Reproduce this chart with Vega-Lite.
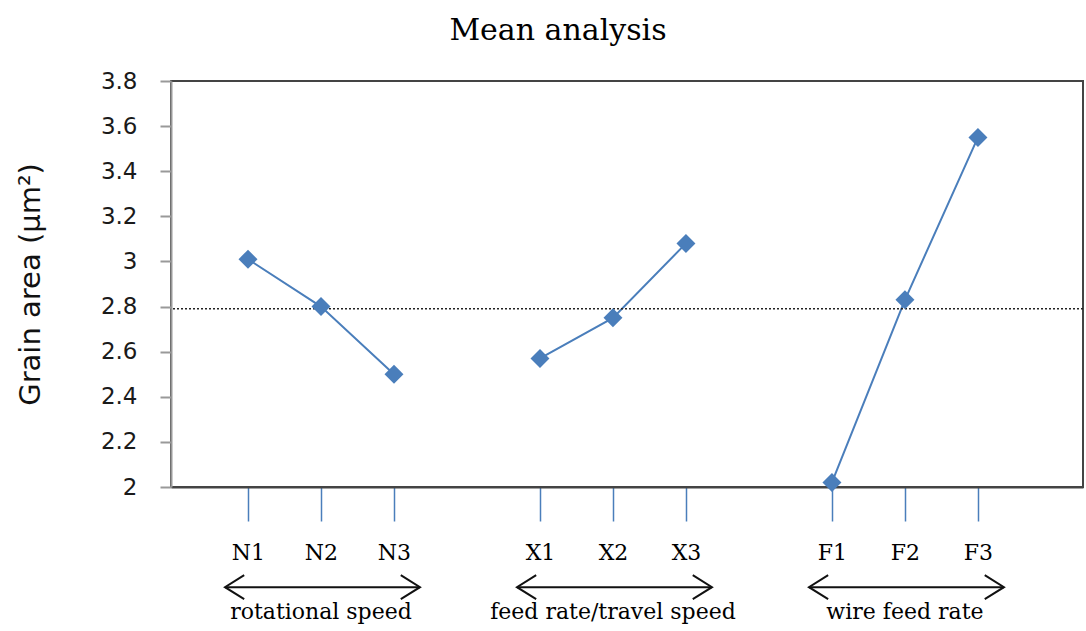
{
  "$schema": "https://vega.github.io/schema/vega-lite/v6.json",
  "width": 912,
  "height": 406,
  "autosize": "none",
  "padding": {"left": 171, "top": 81, "right": 3, "bottom": 144},
  "background": "white",
  "config": {
    "view": {"stroke": "#444", "strokeWidth": 2},
    "axis": {"grid": false}
  },
  "title": {
    "text": "Mean analysis",
    "font": "DejaVu Serif",
    "fontSize": 30,
    "fontWeight": "normal",
    "color": "#000",
    "anchor": "middle",
    "frame": "group",
    "dx": -69,
    "offset": 0,
    "baseline": "alphabetic"
  },
  "datasets": {
    "means": [
      {"factor": "rotational speed", "level": "N1", "mean": 3.01},
      {"factor": "rotational speed", "level": "N2", "mean": 2.80},
      {"factor": "rotational speed", "level": "N3", "mean": 2.50},
      {"factor": "feed rate/travel speed", "level": "X1", "mean": 2.57},
      {"factor": "feed rate/travel speed", "level": "X2", "mean": 2.75},
      {"factor": "feed rate/travel speed", "level": "X3", "mean": 3.08},
      {"factor": "wire feed rate", "level": "F1", "mean": 2.02},
      {"factor": "wire feed rate", "level": "F2", "mean": 2.83},
      {"factor": "wire feed rate", "level": "F3", "mean": 3.55}
    ],
    "grand": [{"grand_mean": 2.79}],
    "groups": [
      {"factor": "rotational speed", "first": "N1", "mid": "N2", "last": "N3"},
      {"factor": "feed rate/travel speed", "first": "X1", "mid": "X2", "last": "X3"},
      {"factor": "wire feed rate", "first": "F1", "mid": "F2", "last": "F3"}
    ]
  },
  "layer": [
    {
      "data": {"name": "means"},
      "mark": {"type": "line", "color": "#4a7ebb", "strokeWidth": 2},
      "encoding": {
        "x": {
          "field": "level",
          "type": "nominal",
          "scale": {
            "type": "point",
            "domain": ["N1", "N2", "N3", "gap1", "X1", "X2", "X3", "gap2", "F1", "F2", "F3", "gap3"],
            "padding": 0.747,
            "align": 0.706
          },
          "axis": {
            "title": null,
            "values": ["N1", "N2", "N3", "X1", "X2", "X3", "F1", "F2", "F3"],
            "domainColor": "#444",
            "domainWidth": 2,
            "tickColor": "#4a7ebb",
            "tickWidth": 1.5,
            "tickSize": 34,
            "labelFont": "DejaVu Serif",
            "labelFontSize": 22,
            "labelColor": "#000",
            "labelPadding": 21,
            "labelAngle": 0
          }
        },
        "y": {
          "field": "mean",
          "type": "quantitative",
          "scale": {"domain": [2, 3.8], "nice": false, "zero": false},
          "axis": {
            "title": "Grain area (µm²)",
            "values": [2, 2.2, 2.4, 2.6, 2.8, 3, 3.2, 3.4, 3.6, 3.8],
            "format": "~g",
            "domainColor": "#999",
            "domainWidth": 2,
            "tickColor": "#999",
            "tickWidth": 2,
            "tickSize": 11,
            "labelFont": "DejaVu Sans",
            "labelFontSize": 23,
            "labelColor": "#1a1a1a",
            "labelPadding": 23,
            "titleFont": "DejaVu Sans",
            "titleFontSize": 29,
            "titleFontWeight": "normal",
            "titleColor": "#111",
            "titleX": -141,
            "titleY": 203,
            "titleAngle": -90,
            "titleBaseline": "middle",
            "titleAlign": "center"
          }
        },
        "detail": {"field": "factor"}
      }
    },
    {
      "data": {"name": "grand"},
      "mark": {"type": "rule", "color": "#222", "strokeWidth": 1.5, "strokeDash": [2, 2]},
      "encoding": {
        "y": {"field": "grand_mean", "type": "quantitative"}
      }
    },
    {
      "data": {"name": "means"},
      "mark": {"type": "point", "shape": "diamond", "filled": true, "size": 360, "color": "#4a7ebb", "opacity": 1},
      "encoding": {
        "x": {"field": "level", "type": "nominal"},
        "y": {"field": "mean", "type": "quantitative"}
      }
    },
    {
      "data": {"name": "groups"},
      "mark": {"type": "rule", "color": "#111", "strokeWidth": 2, "xOffset": -23, "x2Offset": 26},
      "encoding": {
        "x": {"field": "first", "type": "nominal"},
        "x2": {"field": "last"},
        "y": {"datum": 1.556, "type": "quantitative"}
      }
    },
    {
      "data": {"name": "groups"},
      "mark": {"type": "point", "shape": "M1.6,-1L0,0L1.6,1", "filled": false, "size": 576, "stroke": "#111", "strokeWidth": 2, "opacity": 1, "xOffset": -23},
      "encoding": {
        "x": {"field": "first", "type": "nominal"},
        "y": {"datum": 1.556, "type": "quantitative"}
      }
    },
    {
      "data": {"name": "groups"},
      "mark": {"type": "point", "shape": "M-1.6,-1L0,0L-1.6,1", "filled": false, "size": 576, "stroke": "#111", "strokeWidth": 2, "opacity": 1, "xOffset": 26},
      "encoding": {
        "x": {"field": "last", "type": "nominal"},
        "y": {"datum": 1.556, "type": "quantitative"}
      }
    },
    {
      "data": {"name": "groups"},
      "mark": {"type": "text", "font": "DejaVu Serif", "fontSize": 22, "color": "#000", "baseline": "middle", "align": "center"},
      "encoding": {
        "x": {"field": "mid", "type": "nominal"},
        "y": {"datum": 1.445, "type": "quantitative"},
        "text": {"field": "factor"}
      }
    }
  ]
}
